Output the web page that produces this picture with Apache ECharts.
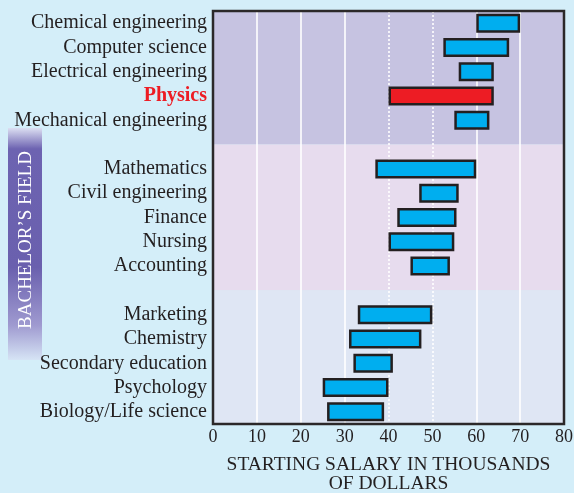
<!DOCTYPE html>
<html>
<head>
<meta charset="utf-8">
<style>
html, body { margin: 0; padding: 0; background: #d4eef9; }
#chart { width: 574px; height: 493px; }
</style>
<script src="https://cdn.jsdelivr.net/npm/echarts@6/dist/echarts.min.js"></script>
</head>
<body>
<div id="chart"></div>
<script>
// 数据
var fields = ['Chemical engineering', 'Computer science', 'Electrical engineering', 'Physics', 'Mechanical engineering',
	'Mathematics', 'Civil engineering', 'Finance', 'Nursing', 'Accounting',
	'Marketing', 'Chemistry', 'Secondary education', 'Psychology', 'Biology/Life science'];
var lowSalary = [60, 52.5, 56, 40, 55, 37, 47, 42, 40, 45, 33, 31, 32, 25, 26];
var highSalary = [70, 67.5, 64, 64, 63, 60, 56, 55.5, 55, 54, 50, 47.5, 41, 40, 39];
var groupStarts = [5, 10];          // a blank row goes in front of these fields
var highlightField = 'Physics';
var solidGridValues = [10, 20, 30, 60, 70];
var dottedGridValues = [40, 50];
var bandColors = ['#c6c3e1', '#e7dcee', '#dfe6f4'];

var serif = '"Liberation Serif", "DejaVu Serif", serif';
var ink = '#231f20';

var rows = [], baseData = [], rangeData = [], bandEdges = [0];
fields.forEach(function (f, i) {
	if (groupStarts.indexOf(i) >= 0) {
		bandEdges.push(rows.length + 0.5);
		rows.push(' '.repeat(rows.length));
		baseData.push('-');
		rangeData.push('-');
	}
	rows.push(f);
	baseData.push(lowSalary[i]);
	var item = { value: highSalary[i] - lowSalary[i] };
	if (f === highlightField) item.itemStyle = { color: '#ed1c24' };
	rangeData.push(item);
});
bandEdges.push(rows.length);

var bands = [];
for (var b = 0; b < bandEdges.length - 1; b++) {
	bands.push([{ yAxis: bandEdges[b], itemStyle: { color: bandColors[b] } }, { yAxis: bandEdges[b + 1] }]);
}
var gridLines = [];
solidGridValues.forEach(function (v) { gridLines.push({ xAxis: v, lineStyle: { type: 'solid' } }); });
dottedGridValues.forEach(function (v) { gridLines.push({ xAxis: v, lineStyle: { type: [2, 2] } }); });

var myChart = echarts.init(document.getElementById('chart'));
var option = {
	backgroundColor: '#d4eef9',
	animation: false,
	grid: {
		left: 213, right: 10, top: 11, bottom: 69,
		show: true, borderColor: '#2b2829', borderWidth: 2.5, backgroundColor: 'transparent',
		z: 20, outerBoundsMode: 'none'
	},
	xAxis: {
		type: 'value', min: 0, max: 80, interval: 10,
		axisLine: { show: false }, axisTick: { show: false }, splitLine: { show: false },
		axisLabel: { fontFamily: serif, fontSize: 18, color: ink, margin: 4 },
		name: 'STARTING SALARY IN THOUSANDS\nOF DOLLARS',
		nameLocation: 'middle', nameGap: 31,
		nameTextStyle: { fontFamily: serif, fontSize: 19.5, color: ink, lineHeight: 19 }
	},
	yAxis: [{
		type: 'category', inverse: true, data: rows,
		axisLine: { show: false }, axisTick: { show: false }, splitLine: { show: false },
		axisLabel: {
			interval: 0,
			fontFamily: serif, fontSize: 20, color: ink, margin: 6,
			formatter: function (v) { return v === highlightField ? '{hl|' + v + '}' : v; },
			rich: { hl: { fontFamily: serif, fontSize: 20, color: '#ed1c24', fontWeight: 'bold' } }
		}
	}, {
		type: 'value', inverse: true, min: 0, max: rows.length, show: false
	}],
	graphic: [{
		type: 'rect', left: 8, top: 128,
		shape: { width: 34, height: 232 },
		style: {
			fill: new echarts.graphic.LinearGradient(0, 0, 0, 1, [
				{ offset: 0, color: '#dcdff2' },
				{ offset: 0.09, color: '#6d63b1' },
				{ offset: 0.6, color: '#6a60ae' },
				{ offset: 0.85, color: '#9f9ad0' },
				{ offset: 1, color: '#d6e4f5' }
			])
		}
	}, {
		type: 'text', x: 26, y: 240, rotation: Math.PI / 2,
		style: {
			text: 'BACHELOR\u2019S FIELD', fill: '#ffffff',
			font: '19px "Liberation Serif", serif', align: 'center', verticalAlign: 'middle'
		}
	}],
	series: [{
		type: 'line', data: [], xAxisIndex: 0, yAxisIndex: 1, silent: true,
		markArea: { silent: true, z: 1, data: bands },
		markLine: {
			silent: true, z: 2, symbol: 'none', label: { show: false },
			lineStyle: { color: '#ffffff', width: 1.6 },
			data: gridLines
		}
	}, {
		name: 'base', type: 'bar', stack: 'salary', yAxisIndex: 0, z: 10,
		barWidth: 19, silent: true,
		itemStyle: { color: 'transparent', borderWidth: 0 },
		data: baseData
	}, {
		name: 'range', type: 'bar', stack: 'salary', yAxisIndex: 0, z: 10,
		barWidth: 19, silent: true,
		itemStyle: { color: '#00aeef', borderColor: ink, borderWidth: 2.5 },
		data: rangeData
	}]
};
myChart.setOption(option);
</script>
</body>
</html>
